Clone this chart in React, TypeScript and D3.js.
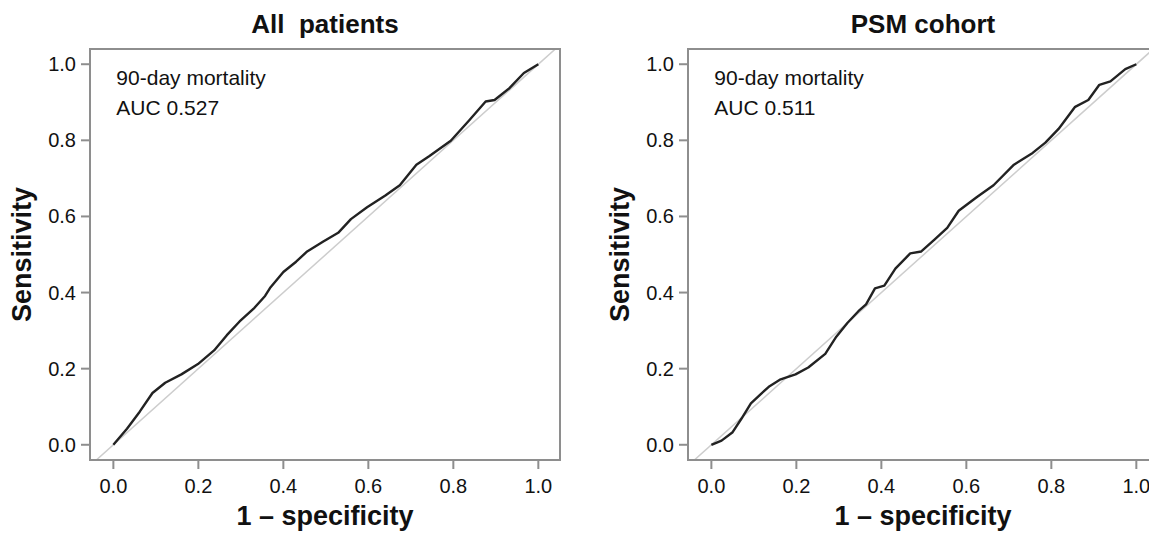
import React from 'react';
import * as d3 from 'd3';

// ROC points: [1 - specificity, sensitivity]
const allFpr = [0, 0.032, 0.062, 0.092, 0.122, 0.16, 0.199, 0.237, 0.267, 0.297, 0.332, 0.357, 0.37, 0.4, 0.43, 0.456, 0.494, 0.529, 0.559, 0.597, 0.64, 0.674, 0.713, 0.743, 0.794, 0.837, 0.876, 0.897, 0.932, 0.966, 1];
const allTpr = [0, 0.042, 0.087, 0.136, 0.163, 0.185, 0.212, 0.248, 0.288, 0.324, 0.36, 0.391, 0.414, 0.454, 0.481, 0.508, 0.534, 0.557, 0.593, 0.624, 0.655, 0.682, 0.736, 0.758, 0.799, 0.852, 0.902, 0.906, 0.937, 0.977, 1];

const psmFpr = [0, 0.024, 0.05, 0.071, 0.093, 0.115, 0.137, 0.163, 0.198, 0.228, 0.268, 0.294, 0.32, 0.346, 0.364, 0.385, 0.407, 0.433, 0.468, 0.494, 0.525, 0.555, 0.582, 0.625, 0.664, 0.712, 0.756, 0.786, 0.817, 0.856, 0.887, 0.913, 0.939, 0.974, 1];
const psmTpr = [0, 0.011, 0.033, 0.069, 0.109, 0.132, 0.154, 0.172, 0.185, 0.203, 0.239, 0.284, 0.32, 0.351, 0.369, 0.411, 0.418, 0.463, 0.503, 0.508, 0.539, 0.57, 0.615, 0.651, 0.682, 0.736, 0.767, 0.794, 0.83, 0.888, 0.906, 0.946, 0.955, 0.987, 1];

const titles = ['All  patients', 'PSM cohort'];
const aucLabels = ['AUC 0.527', 'AUC 0.511'];
const outcome = '90-day mortality';
const ticks = [0, 0.2, 0.4, 0.6, 0.8, 1.0];

const W = 1149;
const H = 534;

type Pt = [number, number];

const Panel = ({ left, title, auc, fpr, tpr }: { left: number; title: string; auc: string; fpr: number[]; tpr: number[] }) => {
    const box = { x0: left, x1: left + 470, y0: 49, y1: 460 };
    const x = d3.scaleLinear().domain([-0.055, 1.051]).range([box.x0, box.x1]);
    const y = d3.scaleLinear().domain([-0.04, 1.04]).range([box.y1, box.y0]);
    const pts: Pt[] = fpr.map((f, i) => [f, tpr[i]]);
    const line = d3.line<Pt>().x((d) => x(d[0])).y((d) => y(d[1]));
    const clipId = 'clip' + left;
    const cx = (box.x0 + box.x1) / 2;
    const cy = (box.y0 + box.y1) / 2;
    const axisColor = '#8e8e8e';

    return (
        <g>
            <defs>
                <clipPath id={clipId}>
                    <rect x={box.x0} y={box.y0} width={box.x1 - box.x0} height={box.y1 - box.y0} />
                </clipPath>
            </defs>
            <text x={cx} y={33} textAnchor="middle" fontSize={26} fontWeight="bold" fill="#111" style={{ whiteSpace: 'pre' }}>{title}</text>

            {/* reference diagonal */}
            <line
                clipPath={`url(#${clipId})`}
                x1={x(-0.1)} y1={y(-0.1)} x2={x(1.1)} y2={y(1.1)}
                stroke="#cdcdcd" strokeWidth={1.5}
            />
            <path d={line(pts) ?? ''} fill="none" stroke="#222" strokeWidth={2.4} strokeLinejoin="round" />

            <rect x={box.x0} y={box.y0} width={box.x1 - box.x0} height={box.y1 - box.y0} fill="none" stroke={axisColor} strokeWidth={2} />

            {ticks.map((t) => (
                <g key={'y' + t}>
                    <line x1={box.x0 - 9} x2={box.x0} y1={y(t)} y2={y(t)} stroke={axisColor} strokeWidth={2} />
                    <text x={box.x0 - 14} y={y(t)} dy="0.35em" textAnchor="end" fontSize={20} fill="#111">{t.toFixed(1)}</text>
                </g>
            ))}
            {ticks.map((t) => (
                <g key={'x' + t}>
                    <line x1={x(t)} x2={x(t)} y1={box.y1} y2={box.y1 + 9} stroke={axisColor} strokeWidth={2} />
                    <text x={x(t)} y={493} textAnchor="middle" fontSize={20} fill="#111">{t.toFixed(1)}</text>
                </g>
            ))}

            <text x={x(0) + 3} y={85} fontSize={21} fill="#111">{outcome}</text>
            <text x={x(0) + 3} y={115} fontSize={21} fill="#111">{auc}</text>

            <text x={cx} y={525} textAnchor="middle" fontSize={27} fontWeight="bold" fill="#111">1 – specificity</text>
            <text transform={`translate(${left - 59},${cy}) rotate(-90)`} textAnchor="middle" fontSize={27} fontWeight="bold" fill="#111">Sensitivity</text>
        </g>
    );
};

export default function App() {
    return (
        <svg width={W} height={H} style={{ position: 'absolute', left: 0, top: 0, background: '#fff', fontFamily: 'Liberation Sans, Arial, sans-serif' }}>
            <Panel left={90} title={titles[0]} auc={aucLabels[0]} fpr={allFpr} tpr={allTpr} />
            <Panel left={688} title={titles[1]} auc={aucLabels[1]} fpr={psmFpr} tpr={psmTpr} />
        </svg>
    );
}
